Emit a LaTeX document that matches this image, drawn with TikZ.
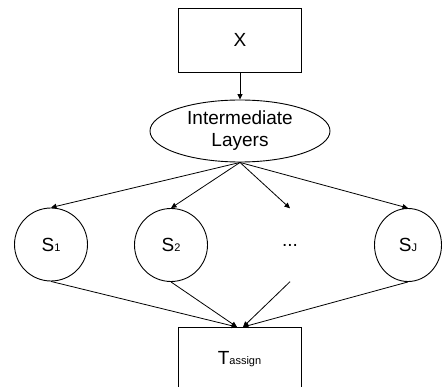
\documentclass[tikz,border=0pt]{standalone}
\usepackage{fontspec}
\setmainfont{Liberation Sans}
\usetikzlibrary{arrows.meta,shapes.geometric}
\begin{document}
\begin{tikzpicture}[x=1pt,y=-1pt,
  every node/.style={font=\fontsize{19}{23}\selectfont},
  box/.style={draw,line width=0.9pt,rectangle,minimum width=123pt,minimum height=64pt,inner sep=0pt},
  oval/.style={draw,line width=0.9pt,ellipse,minimum width=180pt,minimum height=62pt,inner sep=0pt,align=center},
  state/.style={draw,line width=0.9pt,circle,minimum size=73pt,inner sep=0pt},
  blank/.style={rectangle,minimum width=40pt,minimum height=73pt,inner sep=0pt},
  conn/.style={line width=0.8pt,-{Triangle[length=5.5pt,width=5pt]}}]
\useasboundingbox (0,0) rectangle (442,387);
\newcommand{\smalltxt}[1]{{\fontsize{11}{13}\selectfont #1}}
\node[box] (x) at (240,40) {X};
\node[oval] (il) at (240,131) {Intermediate\\[-1pt]Layers};
\node[state] (s1) at (51,244.5) {S\smalltxt{1}};
\node[state] (s2) at (171,245) {S\smalltxt{2}};
\node[blank] (dots) at (290,245) {...};
\node[state,ellipse,minimum width=67pt,minimum height=73pt] (sj) at (408,245) {S\smalltxt{J}};
\node[box] (t) at (239.5,359) {T\smalltxt{assign}};
\coordinate (tl) at (237,327);
\coordinate (tr) at (243,327);
\draw[conn] (x) -- (il);
\draw[conn] (il.south) -- (s1.north);
\draw[conn] (il.south) -- (s2.north);
\draw[conn] (il.south) -- (dots.north);
\draw[conn] (il.south) -- (sj.north);
\draw[conn] (s1.south) -- (tl);
\draw[conn] (s2.south) -- (tl);
\draw[conn] (dots.south) -- (tr);
\draw[conn] (sj.south) -- (tr);
\end{tikzpicture}
\end{document}
